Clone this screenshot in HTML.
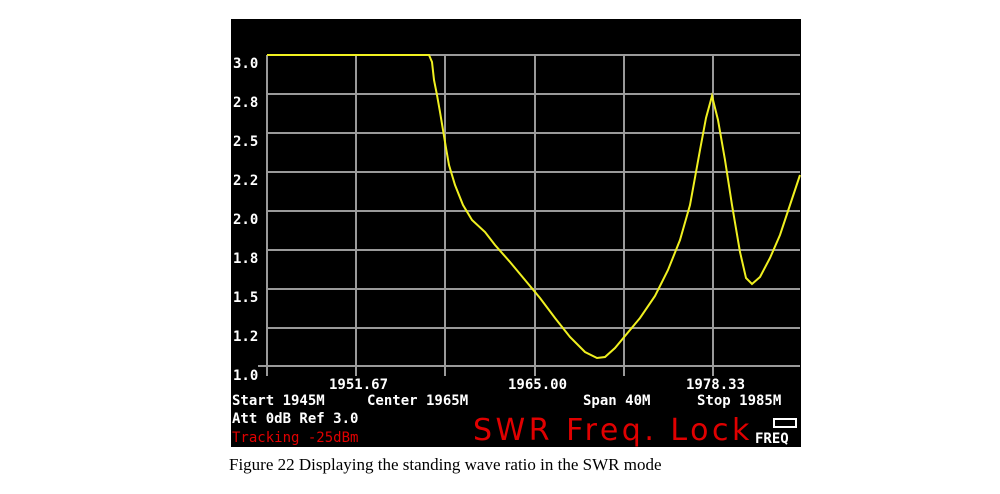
<!DOCTYPE html>
<html><head><style>
body{margin:0;background:#fff;width:1000px;height:494px;overflow:hidden;position:relative}
svg{position:absolute;left:0;top:0}
.cap{position:absolute;left:229px;top:455px;font:17px "Liberation Serif",serif;color:#000}
</style></head><body>
<svg width="1000" height="494" xmlns="http://www.w3.org/2000/svg">
<rect x="231" y="19" width="570" height="428" fill="#000"/>
<g stroke="#9a9a9a" stroke-width="2">
<line x1="267" y1="55" x2="800" y2="55"/>
<line x1="267" y1="94" x2="800" y2="94"/>
<line x1="267" y1="133" x2="800" y2="133"/>
<line x1="267" y1="172" x2="800" y2="172"/>
<line x1="267" y1="211" x2="800" y2="211"/>
<line x1="267" y1="250" x2="800" y2="250"/>
<line x1="267" y1="289" x2="800" y2="289"/>
<line x1="267" y1="328" x2="800" y2="328"/>
<line x1="258" y1="366" x2="800" y2="366"/>
<line x1="267" y1="55" x2="267" y2="376"/>
<line x1="356" y1="55" x2="356" y2="376"/>
<line x1="445" y1="55" x2="445" y2="376"/>
<line x1="535" y1="55" x2="535" y2="376"/>
<line x1="624" y1="55" x2="624" y2="376"/>
<line x1="713" y1="55" x2="713" y2="376"/>
</g>
<polyline fill="none" stroke="#f0f020" stroke-width="2" points="267,55 429,55 432,62 434,80 437,95 440,112 443,130 446,148 449,165 455,185 463,205 472,220 485,232 495,245 510,262 525,280 540,298 555,318 570,337 585,352 597,358 605,357 615,348 625,336 640,318 655,296 668,270 680,240 690,205 700,150 706,118 712,96 718,120 725,160 732,205 740,252 746,278 752,284 760,277 770,258 780,235 790,205 800,175"/>
<g font-family="DejaVu Sans Mono,monospace" font-size="14" fill="#fff" font-weight="bold">
<text x="233" y="68">3.0</text>
<text x="233" y="107">2.8</text>
<text x="233" y="146">2.5</text>
<text x="233" y="185">2.2</text>
<text x="233" y="224">2.0</text>
<text x="233" y="263">1.8</text>
<text x="233" y="302">1.5</text>
<text x="233" y="341">1.2</text>
<text x="233" y="380">1.0</text>
<text x="329" y="389">1951.67</text>
<text x="508" y="389">1965.00</text>
<text x="686" y="389">1978.33</text>
<text x="232" y="405">Start 1945M</text>
<text x="367" y="405">Center 1965M</text>
<text x="583" y="405">Span 40M</text>
<text x="697" y="405">Stop 1985M</text>
<text x="232" y="423">Att 0dB Ref 3.0</text>
<text x="232" y="442" fill="#e00000" font-weight="normal">Tracking -25dBm</text>
<text x="755" y="443">FREQ</text>
</g>
<text x="473" y="440" font-family="DejaVu Sans,sans-serif" font-size="30" fill="#e00000" letter-spacing="3.5">SWR Freq. Lock</text>
<rect x="774" y="419" width="22" height="8" fill="none" stroke="#fff" stroke-width="2"/>
</svg>
<div class="cap">Figure 22 Displaying the standing wave ratio in the SWR mode</div>
</body></html>
